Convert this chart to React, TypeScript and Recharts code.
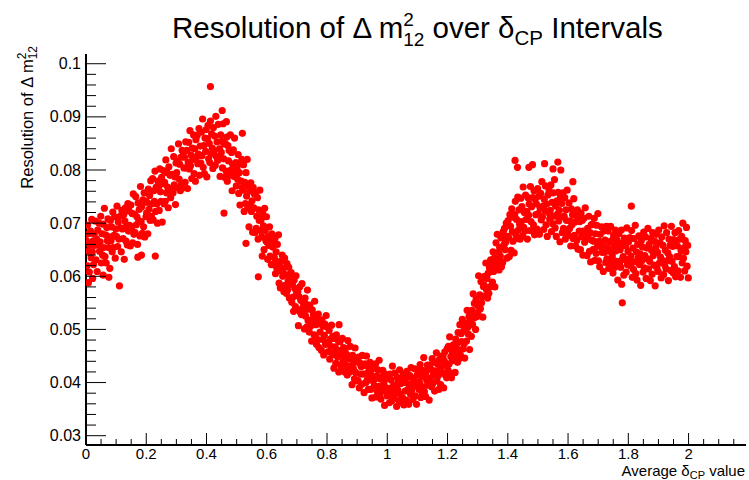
import React from "react";
import { ScatterChart, Scatter, XAxis, YAxis } from "recharts";

// points: x in units of 0.001, y in units of 0.0001
const seg00 = [[1,667],[3,620],[5,696],[7,647],[9,680],[11,608],[13,658],[15,685],[17,635],[19,707],[21,646],[23,666],[25,622],[27,679],[29,658],[31,704],[33,631],[35,670],[37,609],[39,687],[41,659],[43,700],[45,647],[47,665],[49,713],[51,625],[53,680],[55,640],[57,698],[59,654],[61,728],[63,637],[65,678],[67,625],[69,692],[71,667],[73,708],[75,654],[77,674],[79,615],[81,705],[83,667],[85,693],[87,646],[89,721],[91,654],[93,677],[95,712],[97,634],[99,689],[101,675],[103,732],[105,656],[107,702],[109,670],[111,582],[113,713],[115,691],[117,646],[119,724],[121,689],[123,671],[125,716],[127,632],[129,704],[131,729],[133,666],[135,695],[137,659],[139,737],[141,685],[143,723],[145,696],[147,657],[149,734],[151,690],[153,718],[155,663],[157,755],[159,679],[161,717],[163,682],[165,750],[167,697],[169,712],[171,660],[173,738],[175,705],[177,726],[179,676],[181,769],[183,703],[185,731],[187,681],[189,744],[191,693],[193,757],[195,674],[197,741],[199,712],[8,588],[22,596],[57,602],[76,598],[172,636],[184,640]];
const seg02 = [[201,719],[203,739],[205,680],[207,764],[209,726],[211,752],[213,705],[215,780],[217,713],[219,736],[221,784],[223,706],[225,761],[227,741],[229,798],[231,722],[233,768],[235,736],[237,700],[239,779],[241,769],[243,724],[245,802],[247,759],[249,741],[251,786],[253,702],[255,774],[257,799],[259,736],[261,777],[263,741],[265,819],[267,757],[269,795],[271,768],[273,729],[275,806],[277,762],[279,790],[281,748],[283,840],[285,764],[287,792],[289,757],[291,825],[293,772],[295,787],[297,735],[299,813],[301,795],[303,816],[305,766],[307,849],[309,783],[311,811],[313,761],[315,824],[317,773],[319,837],[321,766],[323,833],[325,804],[327,824],[329,777],[331,853],[333,804],[335,837],[337,765],[339,815],[341,852],[343,802],[345,874],[347,808],[349,828],[351,784],[353,841],[355,820],[357,866],[359,793],[361,840],[363,779],[365,857],[367,824],[369,865],[371,812],[373,830],[375,878],[377,790],[379,845],[381,813],[383,871],[385,827],[387,896],[389,805],[391,846],[393,793],[395,860],[397,835],[399,876],[230,638]];
const seg04 = [[401,787],[403,859],[405,884],[407,821],[409,850],[411,814],[413,892],[415,830],[417,868],[419,841],[421,803],[423,880],[425,836],[427,864],[429,809],[431,901],[433,825],[435,853],[437,818],[439,886],[441,825],[443,840],[445,788],[447,866],[449,833],[451,854],[453,804],[455,887],[457,821],[459,849],[461,786],[463,849],[465,798],[467,862],[469,779],[471,846],[473,817],[475,837],[477,790],[479,866],[481,800],[483,833],[485,761],[487,811],[489,838],[491,788],[493,860],[495,794],[497,814],[499,770],[501,804],[503,783],[505,829],[507,756],[509,795],[511,734],[513,812],[515,779],[517,820],[519,767],[521,762],[523,810],[525,722],[527,777],[529,737],[531,795],[533,751],[535,820],[537,729],[539,770],[541,693],[543,760],[545,735],[547,776],[549,722],[551,742],[553,683],[555,767],[557,729],[559,755],[561,682],[563,757],[565,690],[567,713],[569,748],[571,670],[573,725],[575,705],[577,762],[579,686],[581,706],[583,674],[585,638],[587,717],[589,695],[591,650],[593,728],[595,685],[597,667],[599,712],[413,957],[452,912],[466,891],[458,719],[519,869],[531,662],[572,599]];
const seg06 = [[601,664],[603,632],[605,674],[607,658],[609,693],[611,638],[613,667],[615,622],[617,680],[619,655],[621,661],[623,622],[625,635],[627,671],[629,605],[631,646],[633,616],[635,660],[637,627],[639,678],[641,587],[643,618],[645,578],[647,628],[649,610],[651,640],[653,600],[655,615],[657,571],[659,634],[661,583],[663,603],[665,568],[667,624],[669,574],[671,591],[673,617],[675,559],[677,600],[679,585],[681,607],[683,551],[685,585],[687,561],[689,534],[691,593],[693,577],[695,543],[697,601],[699,569],[701,537],[703,571],[705,507],[707,562],[709,580],[711,533],[713,555],[715,528],[717,586],[719,540],[721,550],[723,530],[725,501],[727,559],[729,525],[731,547],[733,505],[735,574],[737,517],[739,538],[741,495],[743,546],[745,506],[747,518],[749,478],[751,537],[753,512],[755,528],[757,490],[759,553],[761,488],[763,509],[765,472],[767,519],[769,481],[771,529],[773,466],[775,517],[777,495],[779,510],[781,461],[783,518],[785,481],[787,506],[789,452],[791,489],[793,510],[795,472],[797,526],[799,476]];
const seg08 = [[801,505],[803,458],[805,474],[807,498],[809,444],[811,482],[813,468],[815,508],[817,455],[819,487],[821,453],[823,427],[825,483],[827,467],[829,436],[831,490],[833,460],[835,448],[837,479],[839,420],[841,460],[843,477],[845,433],[847,454],[849,428],[851,483],[853,439],[855,466],[857,447],[859,420],[861,464],[863,433],[865,453],[867,414],[869,479],[871,425],[873,445],[875,420],[877,468],[879,431],[881,432],[883,396],[885,451],[887,427],[889,442],[891,407],[893,465],[895,419],[897,439],[899,404],[901,439],[903,403],[905,448],[907,390],[909,437],[911,416],[913,430],[915,397],[917,451],[919,416],[921,432],[923,381],[925,416],[927,435],[929,400],[931,450],[933,404],[935,418],[937,387],[939,427],[941,406],[943,438],[945,387],[947,414],[949,371],[951,426],[953,403],[955,432],[957,394],[959,407],[961,435],[963,373],[965,412],[967,383],[969,424],[971,393],[973,442],[975,378],[977,407],[979,369],[981,411],[983,394],[985,423],[987,385],[989,399],[991,357],[993,416],[995,390],[997,408],[999,375],[840,509]];
const seg10 = [[1001,381],[1003,408],[1005,389],[1007,362],[1009,416],[1011,385],[1013,405],[1015,366],[1017,431],[1019,377],[1021,395],[1023,370],[1025,418],[1027,381],[1029,391],[1031,355],[1033,410],[1035,386],[1037,401],[1039,366],[1041,424],[1043,378],[1045,398],[1047,363],[1049,407],[1051,371],[1053,416],[1055,358],[1057,405],[1059,384],[1061,400],[1063,367],[1065,421],[1067,386],[1069,410],[1071,359],[1073,394],[1075,413],[1077,378],[1079,428],[1081,385],[1083,399],[1085,368],[1087,408],[1089,394],[1091,426],[1093,375],[1095,402],[1097,359],[1099,414],[1101,396],[1103,425],[1105,387],[1107,400],[1109,434],[1111,372],[1113,411],[1115,382],[1117,423],[1119,392],[1121,447],[1123,383],[1125,412],[1127,374],[1129,421],[1131,404],[1133,433],[1135,395],[1137,409],[1139,367],[1141,433],[1143,407],[1145,425],[1147,392],[1149,445],[1151,398],[1153,414],[1155,438],[1157,384],[1159,422],[1161,416],[1163,456],[1165,403],[1167,435],[1169,413],[1171,387],[1173,443],[1175,427],[1177,396],[1179,450],[1181,430],[1183,418],[1185,449],[1187,390],[1189,441],[1191,458],[1193,414],[1195,435],[1197,409],[1199,464]];
const seg12 = [[1201,424],[1203,468],[1205,435],[1207,486],[1209,418],[1211,449],[1213,409],[1215,459],[1217,441],[1219,471],[1221,448],[1223,463],[1225,419],[1227,482],[1229,453],[1231,473],[1233,438],[1235,494],[1237,444],[1239,461],[1241,509],[1243,451],[1245,492],[1247,477],[1249,519],[1251,463],[1253,497],[1255,473],[1257,446],[1259,505],[1261,512],[1263,478],[1265,536],[1267,504],[1269,491],[1271,524],[1273,462],[1275,515],[1277,534],[1279,487],[1281,536],[1283,509],[1285,567],[1287,521],[1289,549],[1291,529],[1293,500],[1295,557],[1297,524],[1299,545],[1301,532],[1303,601],[1305,544],[1307,565],[1309,539],[1311,590],[1313,550],[1315,562],[1317,523],[1319,581],[1321,584],[1323,600],[1325,563],[1327,625],[1329,575],[1331,596],[1333,559],[1335,606],[1337,568],[1339,616],[1341,580],[1343,631],[1345,609],[1347,624],[1349,589],[1351,646],[1353,609],[1355,634],[1357,580],[1359,617],[1361,663],[1363,625],[1365,679],[1367,629],[1369,645],[1371,612],[1373,654],[1375,638],[1377,673],[1379,618],[1381,672],[1383,626],[1385,684],[1387,659],[1389,690],[1391,650],[1393,664],[1395,700],[1397,634],[1399,675]];
const seg14 = [[1401,705],[1403,673],[1405,637],[1407,716],[1409,694],[1411,649],[1413,727],[1415,684],[1417,666],[1419,711],[1421,644],[1423,716],[1425,741],[1427,678],[1429,707],[1431,671],[1433,749],[1435,687],[1437,725],[1439,698],[1441,670],[1443,747],[1445,703],[1447,731],[1449,676],[1451,768],[1453,692],[1455,720],[1457,685],[1459,753],[1461,707],[1463,722],[1465,670],[1467,748],[1469,715],[1471,736],[1473,686],[1475,769],[1477,703],[1479,731],[1481,685],[1483,748],[1485,697],[1487,761],[1489,678],[1491,745],[1493,716],[1495,736],[1497,689],[1499,765],[1501,718],[1503,751],[1505,679],[1507,729],[1509,756],[1511,706],[1513,778],[1515,712],[1517,732],[1519,688],[1521,745],[1523,724],[1525,770],[1527,697],[1529,736],[1531,675],[1533,753],[1535,720],[1537,761],[1539,708],[1541,724],[1543,772],[1545,684],[1547,739],[1549,699],[1551,757],[1553,713],[1555,782],[1557,691],[1559,732],[1561,675],[1563,742],[1565,717],[1567,758],[1569,704],[1571,724],[1573,665],[1575,749],[1577,711],[1579,737],[1581,682],[1583,757],[1585,690],[1587,713],[1589,748],[1591,670],[1593,725],[1595,705],[1597,762],[1599,686],[1424,818],[1432,805],[1470,805],[1482,810],[1522,812],[1550,802],[1566,815],[1576,800]];
const seg16 = [[1601,677],[1603,738],[1605,690],[1607,704],[1609,657],[1611,727],[1613,697],[1615,716],[1617,671],[1619,746],[1621,677],[1623,702],[1625,657],[1627,714],[1629,668],[1631,725],[1633,651],[1635,711],[1637,685],[1639,703],[1641,650],[1643,719],[1645,675],[1647,705],[1649,640],[1651,685],[1653,709],[1655,664],[1657,729],[1659,669],[1661,678],[1663,639],[1665,690],[1667,671],[1669,713],[1671,647],[1673,682],[1675,627],[1677,697],[1679,668],[1681,698],[1683,650],[1685,666],[1687,709],[1689,630],[1691,680],[1693,643],[1695,696],[1697,656],[1699,718],[1701,629],[1703,666],[1705,618],[1707,679],[1709,656],[1711,693],[1713,645],[1715,663],[1717,609],[1719,685],[1721,645],[1723,668],[1725,626],[1727,694],[1729,633],[1731,654],[1733,685],[1735,615],[1737,665],[1739,647],[1741,694],[1743,626],[1745,667],[1747,638],[1749,606],[1751,677],[1753,657],[1755,617],[1757,687],[1759,648],[1761,628],[1763,668],[1765,593],[1767,658],[1769,680],[1771,623],[1773,650],[1775,617],[1777,687],[1779,631],[1781,662],[1783,637],[1785,602],[1787,672],[1789,632],[1791,657],[1793,608],[1795,691],[1797,622],[1799,647],[1616,778],[1780,550],[1778,585]];
const seg18 = [[1801,665],[1803,632],[1805,673],[1807,620],[1809,638],[1811,686],[1813,598],[1815,653],[1817,613],[1819,671],[1821,627],[1823,696],[1825,605],[1827,646],[1829,593],[1831,660],[1833,635],[1835,676],[1837,622],[1839,642],[1841,583],[1843,667],[1845,629],[1847,655],[1849,608],[1851,683],[1853,616],[1855,639],[1857,674],[1859,596],[1861,653],[1863,633],[1865,690],[1867,614],[1869,660],[1871,628],[1873,592],[1875,671],[1877,649],[1879,604],[1881,682],[1883,639],[1885,621],[1887,666],[1889,582],[1891,654],[1893,679],[1895,616],[1897,645],[1899,609],[1901,687],[1903,625],[1905,663],[1907,636],[1909,597],[1911,674],[1913,630],[1915,658],[1917,603],[1919,695],[1921,621],[1923,649],[1925,614],[1927,682],[1929,629],[1931,644],[1933,592],[1935,670],[1937,637],[1939,658],[1941,611],[1943,694],[1945,628],[1947,656],[1949,606],[1951,669],[1953,618],[1955,682],[1957,599],[1959,666],[1961,637],[1963,657],[1965,610],[1967,686],[1969,637],[1971,670],[1973,598],[1975,648],[1977,675],[1979,625],[1981,700],[1983,634],[1985,654],[1987,610],[1989,667],[1991,646],[1993,692],[1995,619],[1997,658],[1999,597],[1810,732]];

const xLabels = [0, 0.2, 0.4, 0.6, 0.8, 1, 1.2, 1.4, 1.6, 1.8, 2];
const yLabels = [0.03, 0.04, 0.05, 0.06, 0.07, 0.08, 0.09, 0.1];

const X_DOMAIN = [0, 2.1906];
const Y_DOMAIN = [0.02825, 0.10183];
const FONT = "'Liberation Sans', Arial, Helvetica, sans-serif";

const points = [seg00, seg02, seg04, seg06, seg08, seg10, seg12, seg14, seg16, seg18]
    .flat()
    .map(([x, y]) => ({ x: x / 1000, y: y / 10000 }));

// minor ticks every 0.05 on x, 0.002 on y
const xTicks: number[] = [];
for (let i = 0; i <= 43; i++) xTicks.push(+(i * 0.05).toFixed(3));
const yTicks: number[] = [];
for (let i = 0; i <= 35; i++) yTicks.push(+(0.03 + i * 0.002).toFixed(4));

const isLabel = (list: number[], v: number) => list.some((l) => Math.abs(l - v) < 1e-6);

function XTick(props: any) {
    const { x, y, payload } = props;
    const major = isLabel(xLabels, payload.value);
    return (
        <g>
            <line x1={x} y1={y} x2={x} y2={y - (major ? 12 : 6)} stroke="#000" strokeWidth={1} />
            {major && (
                <text x={x} y={y + 14} textAnchor="middle" fontSize={15} fontFamily={FONT} fill="#000">
                    {String(payload.value)}
                </text>
            )}
        </g>
    );
}

function YTick(props: any) {
    const { x, y, payload } = props;
    const major = isLabel(yLabels, payload.value);
    return (
        <g>
            <line x1={x} y1={y} x2={x + (major ? 20 : 10)} y2={y} stroke="#000" strokeWidth={1} />
            {major && (
                <text x={x - 5} y={y} dy="0.35em" textAnchor="end" fontSize={16} fontFamily={FONT} fill="#000">
                    {String(payload.value)}
                </text>
            )}
        </g>
    );
}

const Dot = (props: any) => <circle cx={props.cx} cy={props.cy} r={3.6} fill="#ff0000" />;

export default function App() {
    return (
        <div style={{ position: "absolute", left: 0, top: 0, width: 749, height: 480, background: "#fff", fontFamily: FONT }}>
            <ScatterChart width={749} height={480} margin={{ top: 54, right: 3, bottom: 0, left: 0 }}>
                <XAxis
                    type="number"
                    dataKey="x"
                    domain={X_DOMAIN}
                    allowDataOverflow
                    ticks={xTicks}
                    interval={0}
                    tickSize={0}
                    tickMargin={0}
                    tickLine={false}
                    tick={<XTick />}
                    height={35}
                    axisLine={{ stroke: "#000", strokeWidth: 2 }}
                />
                <XAxis xAxisId="top" orientation="top" type="number" domain={X_DOMAIN} allowDataOverflow height={0} tick={false} tickLine={false} axisLine={{ stroke: "#000", strokeWidth: 2 }} />
                <YAxis
                    type="number"
                    dataKey="y"
                    domain={Y_DOMAIN}
                    allowDataOverflow
                    ticks={yTicks}
                    interval={0}
                    tickSize={0}
                    tickMargin={0}
                    tickLine={false}
                    tick={<YTick />}
                    width={86}
                    axisLine={{ stroke: "#000", strokeWidth: 2 }}
                />
                <YAxis yAxisId="right" orientation="right" type="number" domain={Y_DOMAIN} allowDataOverflow width={0} tick={false} tickLine={false} axisLine={{ stroke: "#000", strokeWidth: 2 }} />
                <Scatter data={points} dataKey="y" fill="#ff0000" shape={Dot} isAnimationActive={false} />
            </ScatterChart>
            <svg width={749} height={480} style={{ position: "absolute", left: 0, top: 0, pointerEvents: "none" }}>
                <text x={172} y={38} fontSize={29.5} fontFamily={FONT} fill="#000">
                    Resolution of Δ m
                    <tspan dy={-12} fontSize={19}>2</tspan>
                    <tspan dx={-10.6} dy={20} fontSize={19}>12</tspan>
                    <tspan dy={-8}> over δ</tspan>
                    <tspan dy={7} fontSize={20.5}>CP</tspan>
                    <tspan dy={-7}> Intervals</tspan>
                </text>
                <text transform="translate(33,46) rotate(-90)" textAnchor="end" fontSize={16.5} fontFamily={FONT} fill="#000">
                    Resolution of Δ m
                    <tspan dy={-7} fontSize={12}>2</tspan>
                    <tspan dx={-6.7} dy={11} fontSize={12}>12</tspan>
                </text>
                <text x={745} y={476} textAnchor="end" fontSize={15} fontFamily={FONT} fill="#000">
                    Average δ
                    <tspan dy={3} fontSize={11}>CP</tspan>
                    <tspan dy={-3}> value</tspan>
                </text>
            </svg>
        </div>
    );
}
